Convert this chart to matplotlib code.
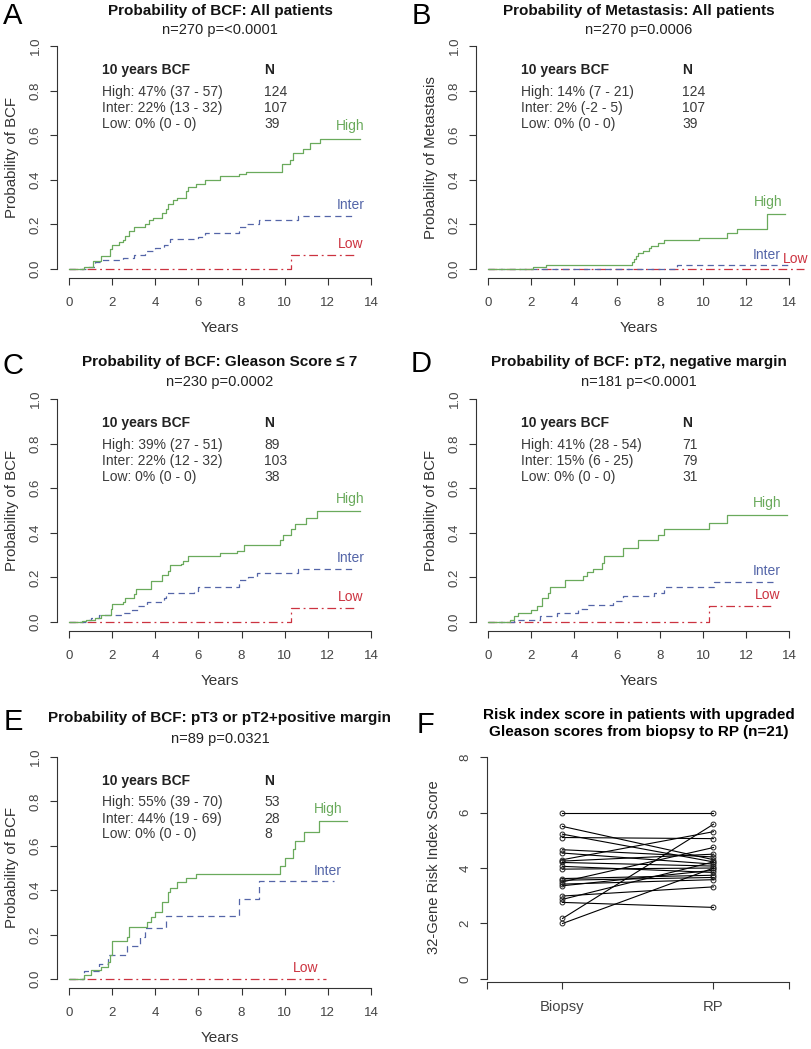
import numpy as np
import matplotlib
matplotlib.use("Agg")
import matplotlib.pyplot as plt

plt.rcParams['font.family'] = ['Liberation Sans', 'DejaVu Sans']

# ---- data ----
# A: BCF, all patients
A_high_t = [0, 0.7, 1.1, 1.5, 1.9, 2.0, 2.3, 2.5, 2.6, 2.8, 3.0, 3.5, 3.7, 3.9, 4.3, 4.5, 4.6, 4.8, 5.0, 5.4, 5.5, 5.9, 6.3, 7.0, 7.9, 8.2, 9.86, 10.25, 10.4, 10.87, 11.17, 11.64, 13.5]
A_high_p = [0, 0.01, 0.035, 0.06, 0.09, 0.11, 0.12, 0.13, 0.15, 0.17, 0.19, 0.20, 0.22, 0.23, 0.25, 0.27, 0.29, 0.31, 0.32, 0.35, 0.37, 0.38, 0.40, 0.415, 0.425, 0.435, 0.47, 0.49, 0.52, 0.54, 0.565, 0.585, 0.585]
A_inter_t = [0, 0.8, 1.2, 1.5, 2.5, 3.0, 3.5, 4.0, 4.4, 4.7, 6.0, 6.3, 7.9, 8.2, 8.8, 10.6, 13.2]
A_inter_p = [0, 0.01, 0.03, 0.04, 0.05, 0.065, 0.08, 0.095, 0.11, 0.135, 0.145, 0.16, 0.19, 0.20, 0.22, 0.24, 0.24]
A_low_t = [0, 10.3, 13.2]
A_low_p = [0, 0.065, 0.065]

# B: metastasis, all patients
B_high_t = [0, 2.1, 2.7, 6.7, 6.8, 6.9, 7.0, 7.2, 7.5, 7.6, 7.9, 8.2, 9.8, 11.1, 11.6, 13.0, 13.8]
B_high_p = [0, 0.01, 0.02, 0.03, 0.045, 0.06, 0.07, 0.08, 0.095, 0.105, 0.115, 0.13, 0.14, 0.16, 0.18, 0.245, 0.245]
B_inter_t = [0, 8.8, 14.0]
B_inter_p = [0, 0.02, 0.02]
B_low_t = [0, 14.7]
B_low_p = [0, 0]

# C: Gleason <= 7
C_high_t = [0, 0.6, 0.8, 1.2, 1.5, 1.95, 2.0, 2.5, 2.6, 3.0, 3.1, 3.8, 4.3, 4.6, 4.7, 5.2, 5.3, 5.5, 7.0, 7.8, 8.1, 9.8, 9.9, 10.3, 10.5, 11.0, 11.5, 13.5]
C_high_p = [0, 0.005, 0.01, 0.02, 0.03, 0.06, 0.08, 0.09, 0.11, 0.125, 0.15, 0.185, 0.21, 0.23, 0.255, 0.26, 0.275, 0.295, 0.31, 0.32, 0.345, 0.37, 0.39, 0.415, 0.44, 0.465, 0.5, 0.5]
C_inter_t = [0, 0.8, 1.0, 1.4, 2.5, 2.9, 3.2, 3.6, 4.4, 4.5, 5.8, 6.0, 7.9, 8.3, 8.7, 10.6, 13.2]
C_inter_p = [0, 0.01, 0.02, 0.03, 0.04, 0.055, 0.07, 0.09, 0.11, 0.13, 0.14, 0.155, 0.19, 0.20, 0.22, 0.24, 0.24]
C_low_t = [0, 10.3, 13.2]
C_low_p = [0, 0.065, 0.065]

# D: pT2, negative margin
D_high_t = [0, 1.0, 1.2, 1.4, 2.0, 2.3, 2.5, 2.8, 2.9, 3.6, 4.4, 4.6, 4.9, 5.3, 5.4, 6.3, 7.0, 7.9, 8.2, 10.3, 11.1, 13.9]
D_high_p = [0, 0.01, 0.025, 0.04, 0.055, 0.07, 0.11, 0.13, 0.155, 0.19, 0.205, 0.225, 0.24, 0.265, 0.295, 0.33, 0.37, 0.39, 0.415, 0.445, 0.48, 0.48]
D_inter_t = [0, 1.2, 2.4, 3.2, 4.2, 4.6, 5.8, 6.3, 7.7, 8.2, 10.5, 13.3]
D_inter_p = [0, 0.01, 0.025, 0.04, 0.06, 0.075, 0.095, 0.115, 0.13, 0.155, 0.18, 0.18]
D_low_t = [0, 10.3, 13.3]
D_low_p = [0, 0.07, 0.07]

# E: pT3 or pT2 + positive margin
E_high_t = [0, 0.7, 1.0, 1.5, 1.8, 1.9, 2.0, 2.7, 2.8, 3.6, 3.8, 4.0, 4.3, 4.6, 4.7, 5.0, 5.4, 5.9, 9.8, 10.0, 10.4, 10.5, 10.9, 11.6, 12.9]
E_high_p = [0, 0.02, 0.04, 0.055, 0.075, 0.11, 0.17, 0.19, 0.235, 0.255, 0.28, 0.30, 0.345, 0.39, 0.41, 0.435, 0.455, 0.475, 0.51, 0.545, 0.585, 0.62, 0.66, 0.71, 0.71]
E_inter_t = [0, 0.7, 1.4, 1.8, 2.7, 3.3, 3.5, 4.5, 7.9, 8.8, 12.3]
E_inter_p = [0, 0.035, 0.07, 0.11, 0.15, 0.19, 0.23, 0.285, 0.36, 0.44, 0.44]
E_low_t = [0, 11.9]
E_low_p = [0, 0]

# F: risk index, biopsy vs RP
F_groups = ['Biopsy', 'RP']
F_biopsy = [5.98, 5.5, 5.22, 5.1, 4.66, 4.54, 4.3, 4.25, 4.2, 4.06, 3.96, 3.62, 3.56, 3.5, 3.42, 3.36, 2.99, 2.87, 2.76, 2.18, 2.0]
F_rp     = [5.98, 4.3, 4.22, 5.06, 4.4, 4.14, 5.31, 4.5, 4.07, 3.84, 4.0, 3.74, 3.66, 4.74, 3.58, 3.92, 3.32, 4.22, 2.58, 5.58, 4.0]

# curve label anchors: (x, y, horizontal alignment)
panels = [
    dict(letter='A', title='Probability of BCF: All patients', sub='n=270 p=<0.0001', ylab='Probability of BCF',
         curves=[(A_high_t, A_high_p), (A_inter_t, A_inter_p), (A_low_t, A_low_p)],
         rows=['High: 47% (37 - 57)', 'Inter: 22% (13 - 32)', 'Low: 0% (0 - 0)'], ns=['124', '107', '39'],
         lab=[(13.7, 0.61, 'right'), (13.7, 0.257, 'right'), (13.65, 0.082, 'right')]),
    dict(letter='B', title='Probability of Metastasis: All patients', sub='n=270 p=0.0006', ylab='Probability of Metastasis',
         curves=[(B_high_t, B_high_p), (B_inter_t, B_inter_p), (B_low_t, B_low_p)],
         rows=['High: 14% (7 - 21)', 'Inter: 2% (-2 - 5)', 'Low: 0% (0 - 0)'], ns=['124', '107', '39'],
         lab=[(13.7, 0.268, 'right'), (13.6, 0.033, 'right'), (13.72, 0.012, 'left')]),
    dict(letter='C', title='Probability of BCF: Gleason Score \u2264 7', sub='n=230 p=0.0002', ylab='Probability of BCF',
         curves=[(C_high_t, C_high_p), (C_inter_t, C_inter_p), (C_low_t, C_low_p)],
         rows=['High: 39% (27 - 51)', 'Inter: 22% (12 - 32)', 'Low: 0% (0 - 0)'], ns=['89', '103', '38'],
         lab=[(13.7, 0.52, 'right'), (13.7, 0.256, 'right'), (13.65, 0.08, 'right')]),
    dict(letter='D', title='Probability of BCF: pT2, negative margin', sub='n=181 p=<0.0001', ylab='Probability of BCF',
         curves=[(D_high_t, D_high_p), (D_inter_t, D_inter_p), (D_low_t, D_low_p)],
         rows=['High: 41% (28 - 54)', 'Inter: 15% (6 - 25)', 'Low: 0% (0 - 0)'], ns=['71', '79', '31'],
         lab=[(13.65, 0.503, 'right'), (13.6, 0.196, 'right'), (13.6, 0.09, 'right')]),
    dict(letter='E', title='Probability of BCF: pT3 or pT2+positive margin', sub='n=89 p=0.0321', ylab='Probability of BCF',
         curves=[(E_high_t, E_high_p), (E_inter_t, E_inter_p), (E_low_t, E_low_p)],
         rows=['High: 55% (39 - 70)', 'Inter: 44% (19 - 69)', 'Low: 0% (0 - 0)'], ns=['53', '28', '8'],
         lab=[(12.7, 0.733, 'right'), (12.65, 0.457, 'right'), (11.55, 0.018, 'right')]),
]

# pixel boxes of the plot regions (left, right, top, bottom) in an 812x1049 canvas
W, H = 812, 1049
boxes = [(57, 383, 37, 278), (476, 801, 37, 278),
         (57, 383, 390, 631), (476, 801, 390, 631),
         (57, 383, 748, 988)]
letter_pos = [(13, 16), (421, 16), (13, 366), (421, 364), (13, 722)]
title_y = [(11, 30), (11, 30), (362, 382), (362, 382), (718, 739)]

colors = ['#6aaa5c', '#5465a8', '#cc3340']
styles = ['-', (0, (5, 3.5)), (0, (7, 3, 1.5, 3))]
axcol = '#333333'
txtcol = '#3a3a3a'

fig = plt.figure(figsize=(W / 100, H / 100), dpi=100)


def fx(x):
    return x / W


def fy(y):
    return 1 - y / H


def style_axes(ax):
    for s in ['top', 'right']:
        ax.spines[s].set_visible(False)
    for s in ['left', 'bottom']:
        ax.spines[s].set_color(axcol)
        ax.spines[s].set_linewidth(0.8)
    ax.tick_params(direction='out', length=5, width=0.8, color=axcol, labelcolor='#444444', labelsize=9.5, pad=9)
    ax.tick_params(axis='y', labelrotation=90, pad=6)
    for t in ax.get_yticklabels():
        t.set_va('center')


for i, p in enumerate(panels):
    l, r, t, b = boxes[i]
    ax = fig.add_axes([fx(l), fy(b), fx(r - l), (b - t) / H])
    ax.set_xlim(-0.56, 14.56)
    ax.set_ylim(-0.04, 1.04)
    ax.set_xticks(range(0, 15, 2))
    ax.set_yticks([0, 0.2, 0.4, 0.6, 0.8, 1.0])
    ax.set_yticklabels(['0.0', '0.2', '0.4', '0.6', '0.8', '1.0'])
    style_axes(ax)
    ax.spines['left'].set_bounds(0, 1)
    ax.spines['bottom'].set_bounds(0, 14)
    ax.patch.set_alpha(0)

    for k in [2, 1, 0]:
        tt, pp = p['curves'][k]
        ax.step(tt, pp, where='post', color=colors[k], linestyle=styles[k], lw=0.9, clip_on=False)

    names = ['High', 'Inter', 'Low']
    for k in range(3):
        lx, ly, ha = p['lab'][k]
        ax.text(lx, ly, names[k], color=colors[k], fontsize=10, ha=ha, va='bottom', clip_on=False)

    # summary block
    ax.text(1.55, 0.892, '10 years BCF', fontsize=10, fontweight='bold', color='#222222', va='center')
    ax.text(9.04, 0.892, 'N', fontsize=10, fontweight='bold', color='#222222', va='center')
    for k, yy in enumerate([0.795, 0.722, 0.652]):
        ax.text(1.55, yy, p['rows'][k], fontsize=10, color=txtcol, va='center')
        ax.text(9.04, yy, p['ns'][k], fontsize=10, color=txtcol, va='center')

    cx = (l + r) / 2
    fig.text(fx(cx), fy(title_y[i][0]), p['title'], fontsize=11, fontweight='bold', ha='center', va='center', color='#111111')
    fig.text(fx(cx), fy(title_y[i][1]), p['sub'], fontsize=10.5, ha='center', va='center', color='#222222')
    fig.text(fx(letter_pos[i][0]), fy(letter_pos[i][1]), p['letter'], fontsize=21, ha='center', va='center')
    fig.text(fx(l - 45), fy((t + b) / 2), p['ylab'], fontsize=10.8, rotation=90, ha='center', va='center', color='#333333')
    fig.text(fx(cx), fy(b + 50), 'Years', fontsize=11, ha='center', va='center', color='#333333')

# panel F
l, r, t, b = 487, 789, 746, 982
ax = fig.add_axes([fx(l), fy(b), fx(r - l), (b - t) / H])
ax.set_xlim(0.5, 2.5)
ax.set_ylim(-0.11, 8.4)
ax.set_xticks([0.5, 1, 2, 2.5])
ax.set_xticklabels(['', F_groups[0], F_groups[1], ''])
ax.set_yticks([0, 2, 4, 6, 8])
style_axes(ax)
ax.tick_params(axis='x', labelsize=10.6, pad=8)
ax.spines['left'].set_bounds(0, 8)
ax.patch.set_alpha(0)
for b0, r0 in zip(F_biopsy, F_rp):
    ax.plot([1, 2], [b0, r0], color='black', lw=0.8, marker='o', ms=3.5, mfc='none', mec='#222222', mew=0.7, clip_on=False)

fig.text(fx(639), fy(715), 'Risk index score in patients with upgraded', fontsize=11, fontweight='bold', ha='center', va='center')
fig.text(fx(639), fy(732), 'Gleason scores from biopsy to RP (n=21)', fontsize=11, fontweight='bold', ha='center', va='center')
fig.text(fx(426), fy(725), 'F', fontsize=21, ha='center', va='center')
fig.text(fx(434), fy(867), '32-Gene Risk Index Score', fontsize=10.6, rotation=90, ha='center', va='center', color='#333333')

fig.savefig('out.png', dpi=100, facecolor='white')
